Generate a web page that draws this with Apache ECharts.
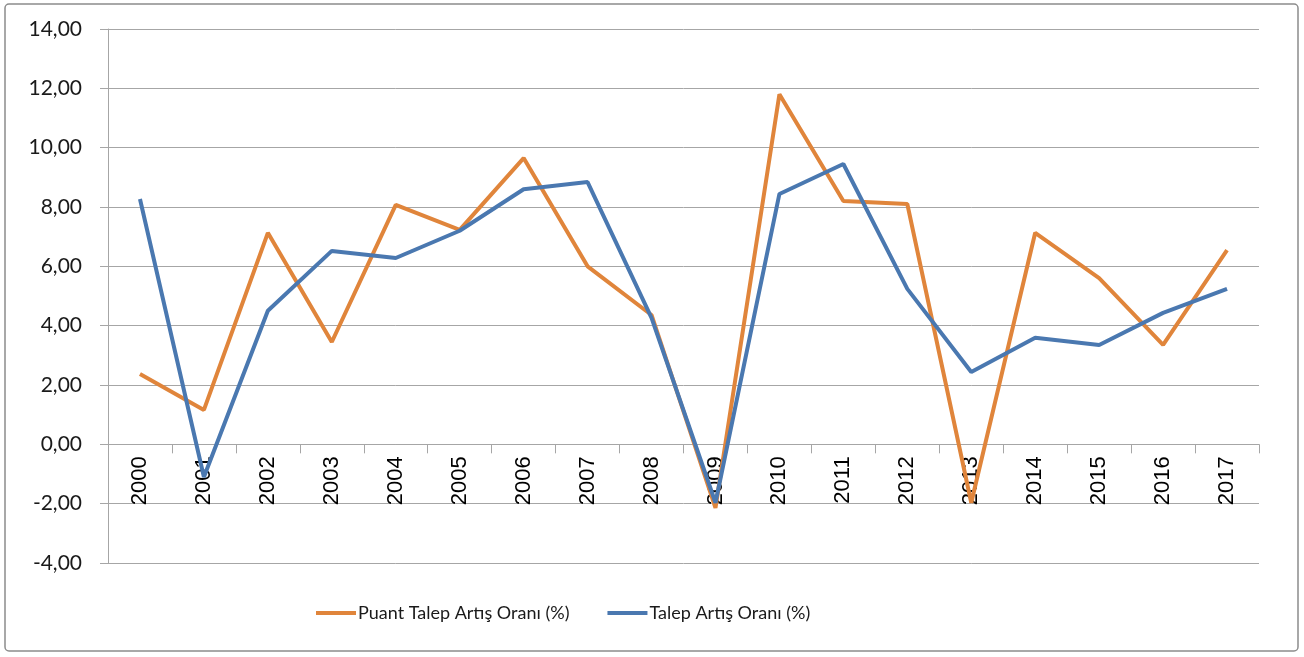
<!DOCTYPE html>
<html>
<head>
<meta charset="utf-8">
<script src="https://cdn.jsdelivr.net/npm/echarts@6/dist/echarts.min.js"></script>
<style>
html,body{margin:0;padding:0;background:#fff;}
#chart{width:1304px;height:657px;}
</style>
</head>
<body>
<div id="chart"></div>
<script>
var years = ['2000','2001','2002','2003','2004','2005','2006','2007','2008','2009','2010','2011','2012','2013','2014','2015','2016','2017'];
var puantTalep = [2.37, 1.16, 7.13, 3.45, 8.07, 7.23, 9.65, 6.00, 4.36, -2.14, 11.80, 8.20, 8.10, -1.97, 7.13, 5.60, 3.35, 6.55];
var talep = [8.27, -1.10, 4.50, 6.52, 6.28, 7.20, 8.60, 8.84, 4.26, -1.97, 8.44, 9.45, 5.24, 2.44, 3.59, 3.35, 4.43, 5.24];
var seriesNames = ['Puant Talep Artış Oranı (%)', 'Talep Artış Oranı (%)'];

var myChart = echarts.init(document.getElementById('chart'));
var gray = '#a6a6a6';
// grid: top 29, height 534 for -4..14 -> zero line sits 4/18 of height above bottom
var zeroOffset = -534 * 4 / 18;

var option = {
    animation: false,
    graphic: [{
        type: 'rect',
        shape: {x: 5, y: 4, width: 1293, height: 647, r: 4},
        style: {fill: 'none', stroke: '#8c8c8c', lineWidth: 1.5}
    }],
    grid: {left: 108, right: 45, top: 29, bottom: 94},
    legend: {
        bottom: 30,
        left: 311,
        icon: 'rect',
        itemWidth: 40,
        itemHeight: 4,
        itemGap: 38,
        data: seriesNames,
        textStyle: {color: '#1a1a1a', fontFamily: 'Lato', fontSize: 18, padding: [0, 0, 0, -3]}
    },
    xAxis: {
        type: 'category',
        data: years,
        boundaryGap: true,
        offset: zeroOffset,
        axisLine: {onZero: false, lineStyle: {color: gray, width: 1}},
        axisTick: {show: true, length: 9, lineStyle: {color: gray}},
        axisLabel: {rotate: 90, margin: 12, color: '#000', fontFamily: 'Liberation Sans', fontSize: 22, interval: 0},
        splitLine: {show: false}
    },
    yAxis: {
        type: 'value',
        min: -4,
        max: 14,
        interval: 2,
        axisLine: {show: true, lineStyle: {color: gray, width: 1}},
        axisTick: {show: true, length: 8, lineStyle: {color: gray}},
        axisLabel: {
            margin: 26,
            color: '#1a1a1a',
            fontFamily: 'Lato',
            fontSize: 21,
            formatter: function(v){return v.toFixed(2).replace('.', ',');}
        },
        splitLine: {show: true, lineStyle: {color: gray, width: 1}}
    },
    series: [
        {
            name: seriesNames[0],
            type: 'line',
            data: puantTalep,
            symbol: 'none',
            lineStyle: {color: '#E0853B', width: 4},
            itemStyle: {color: '#E0853B'}
        },
        {
            name: seriesNames[1],
            type: 'line',
            data: talep,
            symbol: 'none',
            lineStyle: {color: '#4A78B0', width: 4},
            itemStyle: {color: '#4A78B0'}
        }
    ]
};
myChart.setOption(option);
</script>
</body>
</html>
